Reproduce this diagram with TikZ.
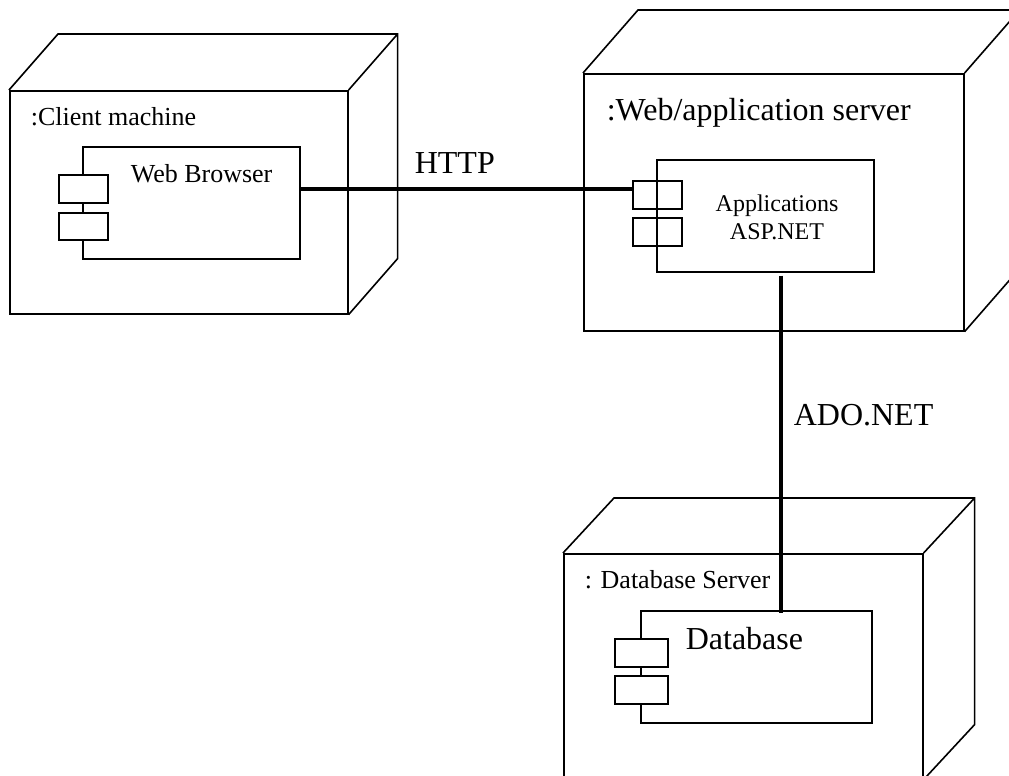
\documentclass[tikz,border=0pt]{standalone}
\usepackage{fontspec}
\setmainfont{Liberation Serif}
\begin{document}
\begin{tikzpicture}[x=1pt,y=-1pt,line width=1.6pt,
	face/.style={draw,rectangle,inner sep=0,anchor=north west},
	port/.style={face,minimum height=28,minimum width=49},
	conn/.style={line width=3.6pt},
	txt/.style={inner sep=0,anchor=base west,font=\fontsize{26}{30}\selectfont},
	bigtxt/.style={txt,font=\fontsize{32}{36}\selectfont}]
			\useasboundingbox (0,0) rectangle (1009,776);
			\clip (0,0) rectangle (1009,776);
			% nodes (front faces)
			\node[face,minimum width=338,minimum height=223] (client) at (9,90) {};
			\node[face,minimum width=380,minimum height=257] (web) at (583,73) {};
			\node[face,minimum width=359,minimum height=225] (dbsrv) at (563,553) {};
			\foreach \n/\dx/\dy in {client/49/56,web/55/63,dbsrv/51/55}
			\draw (\n.north west) -- ++(\dx,-\dy) -- ([shift={(\dx,-\dy)}]\n.north east)
			-- ([shift={(\dx,-\dy)}]\n.south east) -- (\n.south east)
			(\n.north east) -- ++(\dx,-\dy);
			\node[txt] (clientlbl) at (30,125) {:Client machine};
			\node[txt,font=\fontsize{32}{36}\selectfont] (weblbl) at (606,120) {:Web/application server};
			\node[txt] (dbsrvlbl) at (584,588) {: Database Server};
			% components
			\node[face,minimum width=217,minimum height=112] (browser) at (82,146) {};
			\node[port,fill=white] (brP1) at (58,174) {};
			\node[port,fill=white,minimum height=27] (brP2) at (58,212) {};
			\node[txt] (brlbl) at (130,182) {Web Browser};
			\node[face,minimum width=217,minimum height=112] (app) at (656,159) {};
			\node[port] (appP1) at (632,180) {};
			\node[port] (appP2) at (632,217) {};
			\node[txt,anchor=base,font=\fontsize{24}{28}\selectfont] (applbl) at (777,211) {Applications};
			\node[txt,anchor=base,font=\fontsize{24}{28}\selectfont] (asplbl) at (777,239) {ASP.NET};
			\node[face,minimum width=231,minimum height=112] (db) at (640,610) {};
			\node[port,fill=white,minimum width=53] (dbP1) at (614,638) {};
			\node[port,fill=white,minimum width=53] (dbP2) at (614,675) {};
			\node[bigtxt] (dblbl) at (685,649) {Database};
			% connectors
			\draw[conn] ([yshift=14pt]browser.east) -- ([yshift=14pt]browser.east -| appP1.west);
			\draw[conn] ([xshift=15.5pt,yshift=-3pt]app.south) -- ([xshift=15.5pt,yshift=-3pt]app.south |- db.north);
			\node[bigtxt] (http) at (414,173) {HTTP};
			\node[bigtxt] (ado) at (793,425) {ADO.NET};
			\end{tikzpicture}
\end{document}
